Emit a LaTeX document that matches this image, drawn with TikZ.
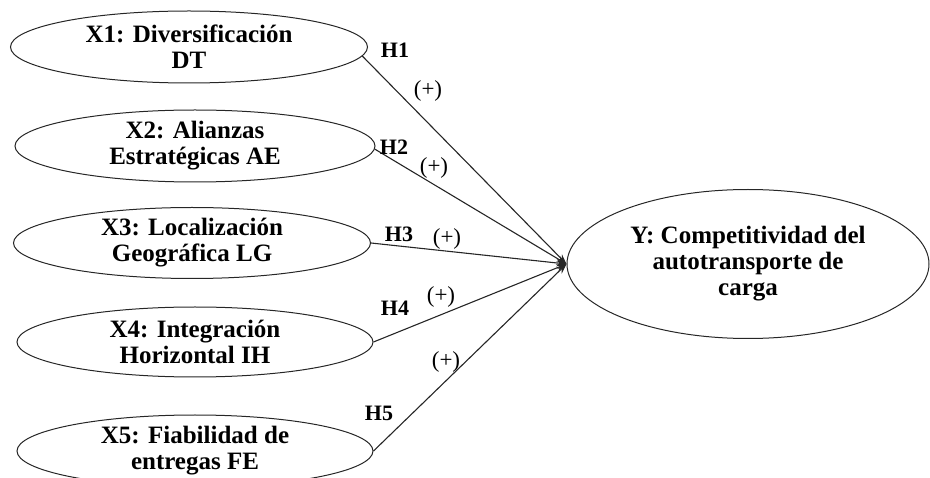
\documentclass[tikz,border=0pt]{standalone}
\usepackage{fontspec}
\setmainfont{Liberation Serif}
\usetikzlibrary{shapes.geometric,arrows.meta}
\tikzset{
  var/.style={draw=black!85, line width=1pt, ellipse, inner sep=0pt, align=center,
    font=\bfseries\fontsize{25}{26}\selectfont},
  path/.style={draw=black!85, line width=1.1pt, -{Stealth[length=10pt,width=7pt]}},
  hlab/.style={font=\bfseries\fontsize{22}{22}\selectfont, inner sep=0pt},
  plab/.style={font=\fontsize{23}{23}\selectfont, inner sep=0pt}
}
\begin{document}
\begin{tikzpicture}[x=1pt,y=-1pt]
\useasboundingbox (0,0) rectangle (930,478);
\node[var, minimum width=357pt, minimum height=72pt] (x1) at (189,47) {X1: Diversificación\\DT};
\node[var, minimum width=360pt, minimum height=72pt] (x2) at (195,146) {X2: Alianzas\\Estratégicas AE};
\node[var, minimum width=357pt, minimum height=71pt] (x3) at (192,243) {X3: Localización\\Geográfica LG};
\node[var, minimum width=356pt, minimum height=70pt] (x4) at (195,342) {X4: Integración\\Horizontal IH};
\node[var, minimum width=356pt, minimum height=72pt] (x5) at (195,451) {X5: Fiabilidad de\\entregas FE};
\node[var, minimum width=362pt, minimum height=149pt] (y) at (748,264) {Y: Competitividad del\\autotransporte de\\carga};
\draw[path] (x1.-3) -- (y.west);
\draw[path] (x2.-1) -- (y.west);
\draw[path] (x3.east) -- (y.west);
\draw[path] (x4.east) -- (y.west);
\draw[path] (x5.east) -- (y.west);
\node[hlab] (h1) at (395,50) {H1};
\node[plab] (p1) at (428,91) {(+)};
\node[hlab] (h2) at (394,147) {H2};
\node[plab] (p2) at (434,168) {(+)};
\node[hlab] (h3) at (399,234) {H3};
\node[plab] (p3) at (447,239) {(+)};
\node[hlab] (h4) at (395,308) {H4};
\node[plab] (p4) at (441,297) {(+)};
\node[hlab] (h5) at (379,413) {H5};
\node[plab] (p5) at (446,362) {(+)};
\end{tikzpicture}
\end{document}
